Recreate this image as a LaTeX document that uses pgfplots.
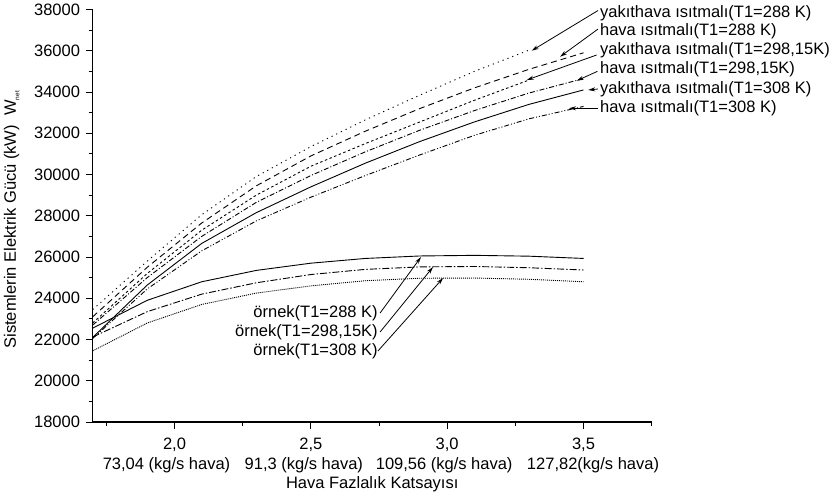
\documentclass[border=0pt]{standalone}
\usepackage{pgfplots}
\pgfplotsset{compat=1.18}
\usepackage{fontspec}
\setmainfont{Liberation Sans}
\usetikzlibrary{arrows.meta}
\newcommand{\fs}{\fontsize{16.5}{20}\selectfont}
\begin{document}
\fs
\begin{tikzpicture}
\begin{axis}[
  name=ax, at={(0,0)}, anchor=south west,
  scale only axis, width=559pt, height=412.5pt,
  xmin=1.7, xmax=3.75, ymin=18000, ymax=38000,
  axis lines*=left, axis line style={line width=1.2pt},
  tick align=outside, major tick length=7pt, minor tick length=4pt,
  every tick/.style={line width=1pt, black},
  xtick={2,2.5,3,3.5}, minor xtick={1.75,2.25,2.75,3.25,3.75},
  xticklabels={{2,0\\\hspace*{-16pt}73,04 (kg/s hava)},{2,5\\\hspace*{-14pt}91,3 (kg/s hava)},{3,0\\\hspace*{-6pt}109,56 (kg/s hava)},{3,5\\\hspace*{19pt}127,82(kg/s hava)}},
  xticklabel style={align=center, font=\fs, yshift=-3pt},
  ytick={18000,20000,...,38000}, minor ytick={19000,21000,...,37000},
  scaled y ticks=false,
  yticklabel style={font=\fs},
  /pgf/number format/set thousands separator={},
  /pgf/number format/assume math mode=true,
  xlabel={Hava Fazlalık Katsayısı},
  xlabel style={font=\fs, yshift=7pt},
  ylabel={Sistemlerin Elektrik Gücü (kW)\ \ W\raisebox{-0.4ex}{\fontsize{6.5}{6.5}\selectfont net}},
  every axis y label/.style={at={([xshift=-81pt]rel axis cs:0,0.49)}, anchor=center, rotate=90, font=\fs},
  clip=false,
  every axis plot/.append style={black, line width=0.9pt},
]
% yakithava 288
\addplot[dash pattern=on 1.2pt off 4pt] coordinates {(1.7,23450)(1.9,25800)(2.1,28050)(2.3,29900)(2.5,31350)(2.7,32650)(2.9,33850)(3.1,35000)(3.3,36030)};
% hava 288
\addplot[dash pattern=on 6pt off 4pt] coordinates {(1.7,23100)(1.9,25500)(2.1,27650)(2.3,29450)(2.5,30900)(2.7,32100)(2.9,33200)(3.1,34200)(3.3,35100)(3.5,35900)};
% yakithava 298,15
\addplot[dash pattern=on 2.5pt off 2.5pt] coordinates {(1.7,22800)(1.9,25200)(2.1,27300)(2.3,29000)(2.5,30400)(2.7,31500)(2.9,32550)(3.1,33600)(3.3,34580)};
% hava 298,15
\addplot[dash pattern=on 5pt off 2pt on 1pt off 2pt] coordinates {(1.7,22700)(1.9,25000)(2.1,27000)(2.3,28650)(2.5,29950)(2.7,31100)(2.9,32150)(3.1,33100)(3.3,33950)(3.5,34650)};
% yakithava 308
\addplot[solid] coordinates {(1.7,22100)(1.9,24640)(2.1,26660)(2.3,28150)(2.5,29400)(2.7,30550)(2.9,31600)(3.1,32550)(3.3,33400)(3.5,34100)};
% hava 308
\addplot[dash pattern=on 5pt off 2pt on 1pt off 2pt on 1pt off 2pt] coordinates {(1.7,22050)(1.9,24450)(2.1,26300)(2.3,27750)(2.5,28900)(2.7,29950)(2.9,30950)(3.1,31900)(3.3,32700)(3.5,33300)};
% ornek
\addplot[solid] coordinates {(1.7,22550)(1.9,23900)(2.1,24800)(2.3,25350)(2.5,25700)(2.7,25930)(2.9,26050)(3.1,26080)(3.3,26040)(3.5,25930)};
\addplot[dash pattern=on 7pt off 2pt on 1.5pt off 2pt] coordinates {(1.7,22120)(1.9,23350)(2.1,24200)(2.3,24750)(2.5,25150)(2.7,25400)(2.9,25520)(3.1,25540)(3.3,25480)(3.5,25370)};
\addplot[dash pattern=on 1pt off 1pt] coordinates {(1.7,21450)(1.9,22800)(2.1,23700)(2.3,24250)(2.5,24600)(2.7,24850)(2.9,24970)(3.1,24980)(3.3,24920)(3.5,24800)};

% annotations
\tikzset{lab/.style={anchor=west, inner sep=0pt, font=\fs},
         arr/.style={-{Stealth[length=7pt,width=4pt]}, line width=0.8pt}}
\node[lab] at (axis cs:3.560,37830) {yakıthava ısıtmalı(T1=288 K)};
\node[lab] at (axis cs:3.560,36933) {hava ısıtmalı(T1=288 K)};
\node[lab] at (axis cs:3.560,36003) {yakıthava ısıtmalı(T1=298,15K)};
\node[lab] at (axis cs:3.560,35101) {hava ısıtmalı(T1=298,15K)};
\node[lab] at (axis cs:3.560,34121) {yakıthava ısıtmalı(T1=308 K)};
\node[lab] at (axis cs:3.560,33210) {hava ısıtmalı(T1=308 K)};
\draw[arr] (axis cs:3.553,37950) -- (axis cs:3.310,36003);
\draw[arr] (axis cs:3.553,37050) -- (axis cs:3.414,35711);
\draw[arr] (axis cs:3.548,35794) -- (axis cs:3.292,34582);
\draw[arr] (axis cs:3.551,35000) -- (axis cs:3.475,34548);
\draw[arr] (axis cs:3.553,34145) -- (axis cs:3.517,34097);
\draw[arr] (axis cs:3.553,33210) -- (axis cs:3.447,33210);
\node[lab, anchor=east] at (axis cs:2.746,23285) {örnek(T1=288 K)};
\node[lab, anchor=east] at (axis cs:2.746,22364) {örnek(T1=298,15K)};
\node[lab, anchor=east] at (axis cs:2.746,21442) {örnek(T1=308 K)};
\draw[arr] (axis cs:2.754,23285) -- (axis cs:2.904,26000);
\draw[arr] (axis cs:2.754,22364) -- (axis cs:2.948,25515);
\draw[arr] (axis cs:2.746,21442) -- (axis cs:2.985,24982);
\end{axis}
\pgfresetboundingbox
\path[use as bounding box] ([xshift=-92.7pt,yshift=-77pt]ax.south west) rectangle ([xshift=738.3pt,yshift=422pt]ax.south west);
\end{tikzpicture}
\end{document}
